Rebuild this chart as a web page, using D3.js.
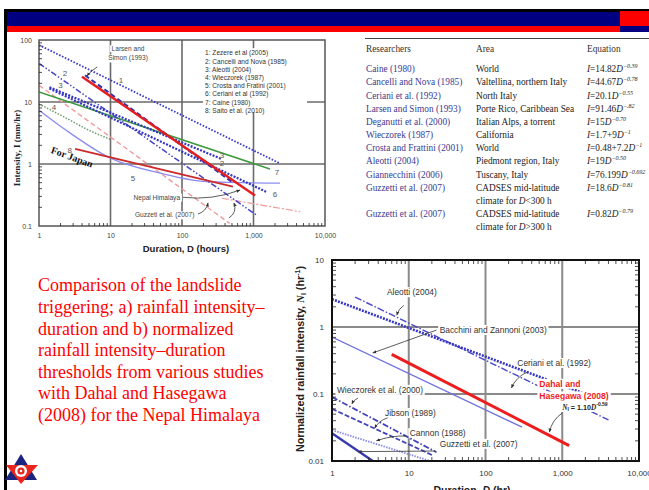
<!DOCTYPE html>
<html>
<head>
<meta charset="utf-8">
<script src="https://cdn.jsdelivr.net/npm/d3@7"></script>
<style>
html, body { margin: 0; padding: 0; background: #fff; }
svg { display: block; }
</style>
</head>
<body>
<div class="container"></div>
<script>
const width = 649,
    height = 490;

// panel a) thresholds, [duration D (h), intensity I (mm/hr)]
const zezere = [[1, 83], [2350, 1.02]];
const cancelli = [[1, 42], [1100, 0.15]];
const larsen = [[4.4, 27], [515, 0.5]];
const nepal = [[4, 25.5], [1050, 0.31]];
const aleotti = [[1.4, 17.3], [360, 1.2]];
const ceriani = [[1.4, 16.5], [1550, 0.35]];
const wieczorek = [[1, 9.3], [2.4, 5.5], [5, 3.5], [10, 2.5]];
const crosta = [[1, 7.4], [2.4, 3.5], [10, 1.24], [50, 0.71], [220, 0.52], [2350, 0.49]];
const caine = [[1, 14.5], [1700, 0.83]];
const saito = [[3.2, 1.75], [515, 0.43]];
const guzzettiShort = [[1, 18.6], [465, 0.11]];
const guzzettiLong = [[360, 0.28], [4500, 0.17]];

const legendA = ['1: Zezere et al (2005)', '2: Cancelli and Nova (1985)', '3: Aleotti (2004)',
    '4: Wieczorek (1987)', '5: Crosta and Fratini (2001)', '6: Ceriani et al (1992)',
    '7: Caine (1980)', '8: Saito et al. (2010)'];
// number tags next to the lines: [text, D, I]
const numberTags = [['1', 14, 22.6], ['2', 2.3, 29.4], ['3', 2.0, 18.8], ['4', 1.62, 8.3],
    ['5', 20.7, 0.6], ['6', 2000, 0.33], ['7', 2130, 0.75], ['8', 2.7, 1.67],
    ['3', 362, 1.38], ['2', 362, 1.02]];

// panel b) normalized thresholds, [D (hr), N_I (1/hr)]
const nCeriani = [[1, 2.6], [3800, 0.076]];
const nAleotti = [[2, 2.8], [4000, 0.041]];
const nBacchini = [[1, 0.71], [300, 0.032]];
const nDahal = [[6, 0.39], [1230, 0.017]];
const nWieczorek = [[1, 0.09], [23, 0.0135]];
const nJibson = [[1, 0.06], [21, 0.012]];
const nCannon = [[1, 0.029], [19, 0.01]];
const nGuzzetti = [[1, 0.026], [3.4, 0.01]];

const xTicks = [1, 10, 100, 1000, 10000];
const yTicksA = [0.1, 1, 10, 100];
const yTicksB = [0.01, 0.1, 1, 10];

// table
const researchers = ['Caine (1980)', 'Cancelli and Nova (1985)', 'Ceriani et al. (1992)',
    'Larsen and Simon (1993)', 'Deganutti et al. (2000)', 'Wieczorek (1987)',
    'Crosta and Frattini (2001)', 'Aleotti (2004)', 'Giannecchini (2006)',
    'Guzzetti et al. (2007)', '', 'Guzzetti et al. (2007)', ''];
const areas = ['World', 'Valtellina, northern Italy', 'North Italy', 'Porte Rico, Caribbean Sea',
    'Italian Alps, a torrent', 'California', 'World', 'Piedmont region, Italy', 'Tuscany, Italy',
    'CADSES mid-latitude', 'climate for D<300 h', 'CADSES mid-latitude', 'climate for D>300 h'];
const equations = [['I=14.82D', '\u22120.39'], ['I=44.67D', '\u22120.78'], ['I=20.1D', '\u22120.55'],
    ['I=91.46D', '\u2212.82'], ['I=15D', '\u22120.70'], ['I=1.7+9D', '\u22121'],
    ['I=0.48+7.2D', '\u22121'], ['I=19D', '\u22120.50'], ['I=76.199D', '\u22120.692'],
    ['I=18.6D', '\u22120.81'], ['', ''], ['I=0.82D', '\u22120.79'], ['', '']];

const caption = ['Comparison of the landslide', 'triggering; a) rainfall intensity\u2013',
    'duration and b) normalized', 'rainfall intensity\u2013duration',
    'thresholds from various studies', 'with Dahal and Hasegawa',
    '(2008) for the Nepal Himalaya'];

const svg = d3.select('.container')
    .append('svg')
    .attr('width', width)
    .attr('height', height);

const defs = svg.append('defs');
defs.append('marker')
    .attr('id', 'arr')
    .attr('viewBox', '0 0 10 10')
    .attr('refX', 9).attr('refY', 5)
    .attr('markerWidth', 5).attr('markerHeight', 5)
    .attr('orient', 'auto')
    .append('path').attr('d', 'M0,1L10,5L0,9z').attr('fill', '#333');

// slide frame
svg.append('rect').attr('x', 4).attr('y', 9).attr('width', 645).attr('height', 3).attr('fill', '#000');
svg.append('rect').attr('x', 4).attr('y', 9).attr('width', 3).attr('height', 481).attr('fill', '#000');
svg.append('rect').attr('x', 7).attr('y', 12).attr('width', 613).attr('height', 14).attr('fill', '#000080');
svg.append('rect').attr('x', 7).attr('y', 26).attr('width', 613).attr('height', 6).attr('fill', '#ff0000');
svg.append('rect').attr('x', 620).attr('y', 11).attr('width', 29).attr('height', 15).attr('fill', '#ff0000');
svg.append('rect').attr('x', 620).attr('y', 26).attr('width', 29).attr('height', 6).attr('fill', '#000080');

function minorTicks(g, x, y, sides, len) {
    const xd = x.domain(), yd = y.domain();
    const xs = [], ys = [];
    for (let p = xd[0]; p < xd[1]; p *= 10) for (let k = 2; k < 10; k++) xs.push(p * k);
    for (let p = yd[0]; p < yd[1]; p *= 10) for (let k = 2; k < 10; k++) ys.push(p * k);
    const x0 = x.range()[0], x1 = x.range()[1], y0 = y.range()[0], y1 = y.range()[1];
    const t = g.append('g').attr('stroke', '#222').attr('stroke-width', 0.8);
    if (sides.includes('b')) xs.forEach(v => t.append('line').attr('x1', x(v)).attr('x2', x(v)).attr('y1', y0).attr('y2', y0 - len));
    if (sides.includes('t')) xs.forEach(v => t.append('line').attr('x1', x(v)).attr('x2', x(v)).attr('y1', y1).attr('y2', y1 + len));
    if (sides.includes('l')) ys.forEach(v => t.append('line').attr('x1', x0).attr('x2', x0 + len).attr('y1', y(v)).attr('y2', y(v)));
    if (sides.includes('r')) ys.forEach(v => t.append('line').attr('x1', x1).attr('x2', x1 - len).attr('y1', y(v)).attr('y2', y(v)));
}

function series(g, x, y, pts, color, w, dash, curve) {
    const line = d3.line().x(d => x(d[0])).y(d => y(d[1])).curve(curve || d3.curveLinear);
    g.append('path').datum(pts)
        .attr('d', line)
        .attr('fill', 'none')
        .attr('stroke', color)
        .attr('stroke-width', w)
        .attr('stroke-dasharray', dash || null);
}

function arrow(g, x, y, a, b, bend) {
    const p0 = [x(a[0]), y(a[1])], p1 = [x(b[0]), y(b[1])];
    const mx = (p0[0] + p1[0]) / 2, my = (p0[1] + p1[1]) / 2;
    const dx = p1[0] - p0[0], dy = p1[1] - p0[1];
    const c = [mx - dy * (bend || 0), my + dx * (bend || 0)];
    g.append('path')
        .attr('d', `M${p0[0]},${p0[1]}Q${c[0]},${c[1]} ${p1[0]},${p1[1]}`)
        .attr('fill', 'none').attr('stroke', '#333').attr('stroke-width', 0.8)
        .attr('marker-end', 'url(#arr)');
}

// white box behind a text so lines and grid do not run through it
function knockout(g, textSel, pad) {
    const b = textSel.node().getBBox();
    g.insert('rect', () => textSel.node())
        .attr('x', b.x - pad).attr('y', b.y).attr('width', b.width + 2 * pad).attr('height', b.height)
        .attr('fill', '#fff');
}

function label(g, x, y, d, text, anchor) {
    const t = g.append('text').attr('x', x(d[0])).attr('y', y(d[1])).attr('dy', '0.35em')
        .attr('text-anchor', anchor || 'start').text(text);
    knockout(g, t, 1.5);
    return t;
}

// ---------- panel a ----------
const xA = d3.scaleLog().domain([1, 10000]).range([39, 325]);
const yA = d3.scaleLog().domain([0.1, 100]).range([226, 40]);
const gA = svg.append('g').attr('font-family', 'Liberation Sans, Arial, sans-serif');

gA.append('rect').attr('x', 39).attr('y', 40).attr('width', 286).attr('height', 186).attr('fill', '#fff');
defs.append('clipPath').attr('id', 'clipA').append('rect').attr('x', 39).attr('y', 40).attr('width', 286).attr('height', 186);

const gridA = gA.append('g').attr('stroke', '#6a6a6a').attr('stroke-width', 1.6);
xTicks.slice(1, -1).forEach(v => gridA.append('line').attr('x1', xA(v)).attr('x2', xA(v)).attr('y1', 40).attr('y2', 226));
yTicksA.slice(1, -1).forEach(v => gridA.append('line').attr('x1', 39).attr('x2', 325).attr('y1', yA(v)).attr('y2', yA(v)));

// legend box hides the grid behind it
gA.append('rect').attr('x', xA(197)).attr('y', yA(74)).attr('width', xA(5600) - xA(197)).attr('height', yA(6.9) - yA(74)).attr('fill', '#fff');
const legA = gA.append('g').attr('font-size', 6.6).attr('fill', '#333');
legendA.forEach((t, i) => legA.append('text').attr('x', xA(210)).attr('y', yA(61.7) + i * 8.2).attr('dy', '0.35em').text(t));

// labels that sit over the grid
const annA = gA.append('g').attr('font-size', 6.6).attr('fill', '#444');
label(annA, xA, yA, [17.6, 71.6], 'Larsen and', 'middle');
label(annA, xA, yA, [17.6, 51], 'Simon (1993)', 'middle');
label(annA, xA, yA, [94, 0.29], 'Nepal Himalaya', 'end');
label(annA, xA, yA, [22, 0.15], 'Guzzeti et al. (2007)');

const linesA = gA.append('g').attr('clip-path', 'url(#clipA)');
series(linesA, xA, yA, guzzettiShort, '#f29a9a', 1.4, '5,3');
series(linesA, xA, yA, guzzettiLong, '#f29a9a', 1.2, '7,2,2,2');
series(linesA, xA, yA, wieczorek, '#6f9a6f', 1.5, '1.5,1.5', d3.curveMonotoneX);
series(linesA, xA, yA, crosta, '#8c8cf0', 1.3, null, d3.curveMonotoneX);
series(linesA, xA, yA, caine, '#3c9a3c', 1.5);
series(linesA, xA, yA, zezere, '#3a3acc', 1.8, '1.6,1.6');
series(linesA, xA, yA, cancelli, '#4545c4', 1.5, '6,2,1.5,2,1.5,2');
series(linesA, xA, yA, aleotti, '#3535c0', 2.2, '2,1.4');
series(linesA, xA, yA, ceriani, '#3535c0', 2.2, '2,1.4');
series(linesA, xA, yA, larsen, '#3030b4', 2, '5,3');
series(linesA, xA, yA, saito, '#cc2a2a', 1.8);
series(linesA, xA, yA, nepal, '#e41e1e', 2.5);

gA.append('rect').attr('x', 39).attr('y', 40).attr('width', 286).attr('height', 186)
    .attr('fill', 'none').attr('stroke', '#555').attr('stroke-width', 1.5);
minorTicks(gA, xA, yA, 'lb', 3);

const arrA = gA.append('g');
arrow(arrA, xA, yA, [6.5, 36.7], [4.7, 26.3], 0.1);
arrow(arrA, xA, yA, [103, 0.29], [648, 0.38], 0.12);
arrow(arrA, xA, yA, [167, 0.156], [231, 0.235], 0.3);
arrow(arrA, xA, yA, [454, 0.135], [533, 0.235], 0.4);

const tagA = gA.append('g').attr('font-size', 8).attr('fill', '#555').attr('text-anchor', 'middle');
numberTags.forEach(d => tagA.append('text').attr('x', xA(d[1])).attr('y', yA(d[2])).attr('dy', '0.35em').text(d[0]));

gA.append('g')
    .attr('transform', 'translate(0,230)')
    .call(d3.axisBottom(xA).tickValues(xTicks).tickSize(0).tickFormat(d3.format(',')))
    .call(g => g.select('.domain').remove())
    .selectAll('text').attr('font-size', 7).attr('fill', '#444');
gA.append('g')
    .attr('transform', 'translate(35,0)')
    .call(d3.axisLeft(yA).tickValues(yTicksA).tickSize(0).tickFormat(d => d))
    .call(g => g.select('.domain').remove())
    .selectAll('text').attr('font-size', 7).attr('fill', '#444');

gA.append('text').attr('x', 186).attr('y', 252).attr('text-anchor', 'middle')
    .attr('font-size', 9.5).attr('font-weight', 'bold').attr('fill', '#222').text('Duration, D (hours)');
gA.append('text').attr('transform', 'translate(20,148) rotate(-90)').attr('text-anchor', 'middle')
    .attr('font-family', 'Liberation Serif, Times New Roman, serif')
    .attr('font-size', 9).attr('font-weight', 'bold').attr('fill', '#222').text('Intensity, I (mm/hr)');

gA.append('text')
    .attr('transform', `translate(${xA(2.9)},${yA(1.3)}) rotate(20)`)
    .attr('text-anchor', 'middle').attr('dy', '0.35em')
    .attr('font-family', 'Liberation Serif, Times New Roman, serif')
    .attr('font-size', 10).attr('font-weight', 'bold').attr('fill', '#111').text('For Japan');

// ---------- table ----------
const tab = svg.append('g').attr('font-family', 'Liberation Serif, Times New Roman, serif').attr('font-size', 9.3);
tab.append('line').attr('x1', 365).attr('x2', 649).attr('y1', 38.5).attr('y2', 38.5).attr('stroke', '#444').attr('stroke-width', 1);
[['Researchers', 366], ['Area', 476], ['Equation', 587]].forEach(h =>
    tab.append('text').attr('x', h[1]).attr('y', 49).attr('dy', '0.35em').attr('fill', '#333').text(h[0]));
const rowY = d3.scaleLinear().domain([0, 12]).range([69, 227]);
researchers.forEach((t, i) => tab.append('text').attr('x', 366).attr('y', rowY(i)).attr('dy', '0.35em').attr('fill', '#3a3a90').text(t));
areas.forEach((t, i) => {
    const tx = tab.append('text').attr('x', 476).attr('y', rowY(i)).attr('dy', '0.35em').attr('fill', '#222');
    const m = t.match(/^(climate for )(D)(.*)$/);
    if (m) {
        tx.append('tspan').text(m[1]);
        tx.append('tspan').attr('font-style', 'italic').text(m[2]);
        tx.append('tspan').text(m[3]);
    } else tx.text(t);
});
equations.forEach((e, i) => {
    if (!e[0]) return;
    const tx = tab.append('text').attr('x', 587).attr('y', rowY(i)).attr('dy', '0.35em').attr('fill', '#222');
    e[0].split(/([ID])/).filter(s => s).forEach(s =>
        tx.append('tspan').attr('font-style', (s === 'I' || s === 'D') ? 'italic' : null).text(s));
    tx.append('tspan').attr('font-size', 6).attr('font-style', 'italic').attr('dy', -4).text(e[1]);
});

// ---------- caption ----------
const cap = svg.append('g').attr('font-family', 'Liberation Serif, Times New Roman, serif')
    .attr('font-size', 18).attr('fill', '#ff0000');
caption.forEach((t, i) => cap.append('text').attr('x', 38).attr('y', 285 + i * 21.6).attr('dy', '0.35em').text(t));

// ---------- panel b ----------
const xB = d3.scaleLog().domain([1, 10000]).range([332, 639]);
const yB = d3.scaleLog().domain([0.01, 10]).range([461, 260]);
const gB = svg.append('g').attr('font-family', 'Liberation Sans, Arial, sans-serif');
defs.append('clipPath').attr('id', 'clipB').append('rect').attr('x', 332).attr('y', 260).attr('width', 307).attr('height', 201);

const gridB = gB.append('g').attr('stroke', '#8a8a8a').attr('stroke-width', 2);
xTicks.slice(1, -1).forEach(v => gridB.append('line').attr('x1', xB(v)).attr('x2', xB(v)).attr('y1', 260).attr('y2', 461));
yTicksB.slice(1, -1).forEach(v => gridB.append('line').attr('x1', 332).attr('x2', 639).attr('y1', yB(v)).attr('y2', yB(v)));

const annB = gB.append('g').attr('font-size', 8.4).attr('fill', '#333');
label(annB, xB, yB, [5.2, 3.3], 'Aleotti (2004)');
label(annB, xB, yB, [25.3, 0.9], 'Bacchini and Zannoni (2003)');
label(annB, xB, yB, [260, 0.29], 'Ceriani et al. (1992)');
label(annB, xB, yB, [1.16, 0.115], 'Wieczorek et al. (2000)');
label(annB, xB, yB, [4.9, 0.052], 'Jibson (1989)');
label(annB, xB, yB, [10.3, 0.026], 'Cannon (1988)');
label(annB, xB, yB, [25.3, 0.018], 'Guzzetti et al. (2007)');

const linesB = gB.append('g').attr('clip-path', 'url(#clipB)');
series(linesB, xB, yB, nBacchini, '#7070e0', 1.3);
series(linesB, xB, yB, nAleotti, '#4848c8', 1.4, '7,2,1.5,2');
series(linesB, xB, yB, nCeriani, '#3838c0', 2.6, '2,1.2');
series(linesB, xB, yB, nWieczorek, '#4444bb', 1.8, '6,2,1.5,2');
series(linesB, xB, yB, nJibson, '#4444bb', 1.8, '5,2');
series(linesB, xB, yB, nCannon, '#8a8ae8', 1.8, '1.5,1.2');
series(linesB, xB, yB, nGuzzetti, '#3a3ab0', 2.4);
series(linesB, xB, yB, nDahal, '#ee1c1c', 3);

gB.append('rect').attr('x', 332).attr('y', 260).attr('width', 307).attr('height', 201)
    .attr('fill', 'none').attr('stroke', '#111').attr('stroke-width', 2);
minorTicks(gB, xB, yB, 'lbrt', 4);

gB.append('g')
    .attr('transform', 'translate(0,467)')
    .call(d3.axisBottom(xB).tickValues(xTicks).tickSize(0).tickFormat(d3.format(',')))
    .call(g => g.select('.domain').remove())
    .selectAll('text').attr('font-size', 8).attr('fill', '#333');
gB.append('g')
    .attr('transform', 'translate(327,0)')
    .call(d3.axisLeft(yB).tickValues(yTicksB).tickSize(0).tickFormat(d => d))
    .call(g => g.select('.domain').remove())
    .selectAll('text').attr('font-size', 8).attr('fill', '#333');

const yTitle = gB.append('text').attr('transform', 'translate(304,359) rotate(-90)').attr('text-anchor', 'middle')
    .attr('font-size', 10.8).attr('font-weight', 'bold').attr('fill', '#222');
yTitle.append('tspan').text('Normalized rainfall intensity, ');
yTitle.append('tspan').attr('font-style', 'italic').attr('font-family', 'Liberation Serif, serif').text('N');
yTitle.append('tspan').attr('font-size', 7).attr('dy', 2).text('I');
yTitle.append('tspan').attr('dy', -2).text(' (hr');
yTitle.append('tspan').attr('font-size', 7).attr('dy', -4).text('-1');
yTitle.append('tspan').attr('dy', 4).text(')');
const xTitle = gB.append('text').attr('x', 472).attr('y', 494).attr('text-anchor', 'middle')
    .attr('font-size', 10.5).attr('font-weight', 'bold').attr('fill', '#222');
xTitle.append('tspan').text('Duration, ');
xTitle.append('tspan').attr('font-style', 'italic').text('D');
xTitle.append('tspan').text(' (hr)');

const arrB = gB.append('g');
arrow(arrB, xB, yB, [8.6, 2.1], [7.0, 1.5], 0.2);
arrow(arrB, xB, yB, [23, 0.9], [3.4, 0.41], 0);
arrow(arrB, xB, yB, [351, 0.213], [218, 0.123], 0.2);
arrow(arrB, xB, yB, [2.18, 0.087], [1.82, 0.071], 0.2);
arrow(arrB, xB, yB, [5.3, 0.044], [3.6, 0.031], 0.2);
arrow(arrB, xB, yB, [9.4, 0.0236], [3.8, 0.02], 0.1);
arrow(arrB, xB, yB, [22.4, 0.0141], [2.18, 0.0138], 0);
arrow(arrB, xB, yB, [1000, 0.052], [680, 0.027], 0.2);

// red label and its equation sit on white, above the lines
const dahal = gB.append('g').attr('font-size', 8.6).attr('font-weight', 'bold').attr('fill', '#ee1c1c');
const d1 = dahal.append('text').attr('x', xB(503)).attr('y', yB(0.142)).attr('dy', '0.35em').text('Dahal and');
const d2 = dahal.append('text').attr('x', xB(503)).attr('y', yB(0.092)).attr('dy', '0.35em').text('Hasegawa (2008)');
const eqB = dahal.append('text').attr('x', xB(1000)).attr('y', yB(0.064)).attr('dy', '0.35em')
    .attr('font-size', 7.2).attr('fill', '#222');
eqB.append('tspan').attr('font-style', 'italic').attr('font-family', 'Liberation Serif, serif').text('N');
eqB.append('tspan').attr('font-size', 5).attr('dy', 1.5).text('I');
eqB.append('tspan').attr('dy', -1.5).text(' = 1.10');
eqB.append('tspan').attr('font-style', 'italic').attr('font-family', 'Liberation Serif, serif').text('D');
eqB.append('tspan').attr('font-size', 5).attr('dy', -4).text('-0.59');
knockout(dahal, d1, 2);
knockout(dahal, d2, 2);
knockout(dahal, eqB, 1);

// ---------- logo ----------
const logo = svg.append('g');
logo.append('polygon').attr('points', '21,454 37,480 5,480').attr('fill', '#1a237e');
logo.append('polygon').attr('points', '6,465 38,465 21,484').attr('fill', '#e8261e');
logo.append('circle').attr('cx', 21).attr('cy', 471).attr('r', 6).attr('fill', '#fff');
logo.append('circle').attr('cx', 21).attr('cy', 471).attr('r', 3.6).attr('fill', '#e8261e');
logo.append('circle').attr('cx', 21).attr('cy', 471).attr('r', 1.3).attr('fill', '#fff');
</script>
</body>
</html>
